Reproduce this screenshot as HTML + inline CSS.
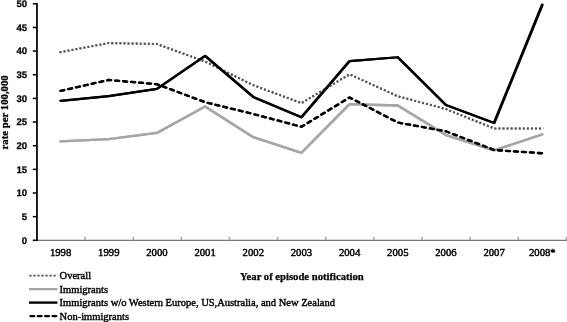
<!DOCTYPE html>
<html><head><meta charset="utf-8"><title>chart</title><style>html,body{margin:0;padding:0;background:#fff;overflow:hidden}body{width:567px;height:322px;position:relative}</style></head><body>
<svg width="567" height="322" viewBox="0 0 567 322" style="position:absolute;left:0;top:0">
<rect width="567" height="322" fill="#fff"/>
<line x1="37" y1="240.3" x2="567" y2="240.3" stroke="#777" stroke-width="1.3"/>
<line x1="85.2" y1="237.0" x2="85.2" y2="240.3" stroke="#a0a0a0" stroke-width="1.5"/>
<line x1="133.3" y1="237.0" x2="133.3" y2="240.3" stroke="#a0a0a0" stroke-width="1.5"/>
<line x1="181.4" y1="237.0" x2="181.4" y2="240.3" stroke="#a0a0a0" stroke-width="1.5"/>
<line x1="229.5" y1="237.0" x2="229.5" y2="240.3" stroke="#a0a0a0" stroke-width="1.5"/>
<line x1="277.6" y1="237.0" x2="277.6" y2="240.3" stroke="#a0a0a0" stroke-width="1.5"/>
<line x1="325.8" y1="237.0" x2="325.8" y2="240.3" stroke="#a0a0a0" stroke-width="1.5"/>
<line x1="373.9" y1="237.0" x2="373.9" y2="240.3" stroke="#a0a0a0" stroke-width="1.5"/>
<line x1="422.0" y1="237.0" x2="422.0" y2="240.3" stroke="#a0a0a0" stroke-width="1.5"/>
<line x1="470.1" y1="237.0" x2="470.1" y2="240.3" stroke="#a0a0a0" stroke-width="1.5"/>
<line x1="518.3" y1="237.0" x2="518.3" y2="240.3" stroke="#a0a0a0" stroke-width="1.5"/>
<line x1="566.4" y1="237.0" x2="566.4" y2="240.3" stroke="#a0a0a0" stroke-width="1.5"/>
<line x1="36.95" y1="3.05" x2="36.95" y2="241.05" stroke="#000" stroke-width="1.75"/>
<line x1="32.8" y1="240.30" x2="36.5" y2="240.30" stroke="#000" stroke-width="1.5"/>
<text text-rendering="geometricPrecision" x="27.2" y="243.65" text-anchor="end" font-family="Liberation Sans, sans-serif" font-weight="bold" font-size="9.6" stroke="#000" stroke-width="0.25">0</text>
<line x1="32.8" y1="216.65" x2="36.5" y2="216.65" stroke="#000" stroke-width="1.5"/>
<text text-rendering="geometricPrecision" x="27.2" y="220.00" text-anchor="end" font-family="Liberation Sans, sans-serif" font-weight="bold" font-size="9.6" stroke="#000" stroke-width="0.25">5</text>
<line x1="32.8" y1="193.00" x2="36.5" y2="193.00" stroke="#000" stroke-width="1.5"/>
<text text-rendering="geometricPrecision" x="27.2" y="196.35" text-anchor="end" font-family="Liberation Sans, sans-serif" font-weight="bold" font-size="9.6" stroke="#000" stroke-width="0.25">10</text>
<line x1="32.8" y1="169.35" x2="36.5" y2="169.35" stroke="#000" stroke-width="1.5"/>
<text text-rendering="geometricPrecision" x="27.2" y="172.70" text-anchor="end" font-family="Liberation Sans, sans-serif" font-weight="bold" font-size="9.6" stroke="#000" stroke-width="0.25">15</text>
<line x1="32.8" y1="145.70" x2="36.5" y2="145.70" stroke="#000" stroke-width="1.5"/>
<text text-rendering="geometricPrecision" x="27.2" y="149.05" text-anchor="end" font-family="Liberation Sans, sans-serif" font-weight="bold" font-size="9.6" stroke="#000" stroke-width="0.25">20</text>
<line x1="32.8" y1="122.05" x2="36.5" y2="122.05" stroke="#000" stroke-width="1.5"/>
<text text-rendering="geometricPrecision" x="27.2" y="125.40" text-anchor="end" font-family="Liberation Sans, sans-serif" font-weight="bold" font-size="9.6" stroke="#000" stroke-width="0.25">25</text>
<line x1="32.8" y1="98.40" x2="36.5" y2="98.40" stroke="#000" stroke-width="1.5"/>
<text text-rendering="geometricPrecision" x="27.2" y="101.75" text-anchor="end" font-family="Liberation Sans, sans-serif" font-weight="bold" font-size="9.6" stroke="#000" stroke-width="0.25">30</text>
<line x1="32.8" y1="74.75" x2="36.5" y2="74.75" stroke="#000" stroke-width="1.5"/>
<text text-rendering="geometricPrecision" x="27.2" y="78.10" text-anchor="end" font-family="Liberation Sans, sans-serif" font-weight="bold" font-size="9.6" stroke="#000" stroke-width="0.25">35</text>
<line x1="32.8" y1="51.10" x2="36.5" y2="51.10" stroke="#000" stroke-width="1.5"/>
<text text-rendering="geometricPrecision" x="27.2" y="54.45" text-anchor="end" font-family="Liberation Sans, sans-serif" font-weight="bold" font-size="9.6" stroke="#000" stroke-width="0.25">40</text>
<line x1="32.8" y1="27.45" x2="36.5" y2="27.45" stroke="#000" stroke-width="1.5"/>
<text text-rendering="geometricPrecision" x="27.2" y="30.80" text-anchor="end" font-family="Liberation Sans, sans-serif" font-weight="bold" font-size="9.6" stroke="#000" stroke-width="0.25">45</text>
<line x1="32.8" y1="3.80" x2="36.5" y2="3.80" stroke="#000" stroke-width="1.5"/>
<text text-rendering="geometricPrecision" x="27.2" y="7.15" text-anchor="end" font-family="Liberation Sans, sans-serif" font-weight="bold" font-size="9.6" stroke="#000" stroke-width="0.25">50</text>
<text x="60.6" y="256" text-anchor="middle" font-family="Liberation Serif, serif" font-size="10.7" stroke="#000" stroke-width="0.45">1998</text>
<text x="108.8" y="256" text-anchor="middle" font-family="Liberation Serif, serif" font-size="10.7" stroke="#000" stroke-width="0.45">1999</text>
<text x="156.9" y="256" text-anchor="middle" font-family="Liberation Serif, serif" font-size="10.7" stroke="#000" stroke-width="0.45">2000</text>
<text x="205.1" y="256" text-anchor="middle" font-family="Liberation Serif, serif" font-size="10.7" stroke="#000" stroke-width="0.45">2001</text>
<text x="253.3" y="256" text-anchor="middle" font-family="Liberation Serif, serif" font-size="10.7" stroke="#000" stroke-width="0.45">2002</text>
<text x="301.4" y="256" text-anchor="middle" font-family="Liberation Serif, serif" font-size="10.7" stroke="#000" stroke-width="0.45">2003</text>
<text x="349.6" y="256" text-anchor="middle" font-family="Liberation Serif, serif" font-size="10.7" stroke="#000" stroke-width="0.45">2004</text>
<text x="397.8" y="256" text-anchor="middle" font-family="Liberation Serif, serif" font-size="10.7" stroke="#000" stroke-width="0.45">2005</text>
<text x="445.9" y="256" text-anchor="middle" font-family="Liberation Serif, serif" font-size="10.7" stroke="#000" stroke-width="0.45">2006</text>
<text x="494.1" y="256" text-anchor="middle" font-family="Liberation Serif, serif" font-size="10.7" stroke="#000" stroke-width="0.45">2007</text>
<text x="542.3" y="256" text-anchor="middle" font-family="Liberation Serif, serif" font-size="10.7" stroke="#000" stroke-width="0.45">2008*</text>
<polyline points="60.26,141.44 108.42,139.08 156.59,132.93 204.76,106.44 252.94,137.19 301.11,152.80 349.28,104.08 397.45,105.50 445.62,135.06 493.79,150.43 541.96,134.35" fill="none" stroke="#a6a6a6" stroke-width="2.3" stroke-linejoin="round" stroke-linecap="round"/>
<polyline points="60.91,141.44 109.08,139.08 157.26,132.93 205.43,106.44 253.60,137.19 301.76,152.80 349.94,104.08 398.11,105.50 446.27,135.06 494.44,150.43 542.62,134.35" fill="none" stroke="#a6a6a6" stroke-width="2.3" stroke-linejoin="round" stroke-linecap="round"/>
<polyline points="59.48,52.23 108.63,43.06 156.81,44.00 204.97,61.51 253.15,85.16 301.31,103.13 349.49,74.28 397.66,96.27 445.82,109.04 494.00,128.44 543.17,128.44" fill="none" stroke="#555" stroke-width="2.05" stroke-dasharray="1.85 2.2" stroke-linejoin="round"/>
<polyline points="59.72,52.23 108.88,43.06 157.05,44.00 205.22,61.51 253.39,85.16 301.56,103.13 349.73,74.28 397.90,96.27 446.06,109.04 494.24,128.44 543.41,128.44" fill="none" stroke="#555" stroke-width="2.05" stroke-dasharray="1.85 2.2" stroke-linejoin="round"/>
<polyline points="60.26,90.83 108.42,79.95 156.59,84.21 204.76,102.18 252.94,114.01 301.11,126.78 349.28,97.45 397.45,122.52 445.62,131.27 493.79,149.96 541.96,153.27" fill="none" stroke="#000" stroke-width="2.3" stroke-dasharray="3.6 4.4" stroke-linecap="round" stroke-linejoin="round"/>
<polyline points="60.91,90.83 109.08,79.95 157.26,84.21 205.43,102.18 253.60,114.01 301.76,126.78 349.94,97.45 398.11,122.52 446.27,131.27 494.44,149.96 542.62,153.27" fill="none" stroke="#000" stroke-width="2.3" stroke-dasharray="3.6 4.4" stroke-linecap="round" stroke-linejoin="round"/>
<polyline points="60.26,100.76 108.42,96.03 156.59,88.94 204.76,55.83 252.94,96.98 301.11,117.32 349.28,61.03 397.45,57.25 445.62,105.02 493.79,123.00 541.96,4.75" fill="none" stroke="#000" stroke-width="2.25" stroke-linejoin="round" stroke-linecap="round"/>
<polyline points="60.91,100.76 109.08,96.03 157.26,88.94 205.43,55.83 253.60,96.98 301.76,117.32 349.94,61.03 398.11,57.25 446.27,105.02 494.44,123.00 542.62,4.75" fill="none" stroke="#000" stroke-width="2.25" stroke-linejoin="round" stroke-linecap="round"/>
<text transform="translate(7.6,112.35) rotate(-90)" text-anchor="middle" font-family="Liberation Serif, serif" font-weight="bold" font-size="10.75" stroke="#000" stroke-width="0.3">rate per 100,000</text>
<text x="240.1" y="279.9" font-family="Liberation Serif, serif" font-weight="bold" font-size="10.65" stroke="#000" stroke-width="0.25">Year of episode notification</text>
<line x1="29.3" x2="57" y1="275.6" y2="275.6" stroke="#555" stroke-width="1.7" stroke-dasharray="2.3 1.72"/>
<line x1="29" x2="57.4" y1="289.15" y2="289.15" stroke="#a6a6a6" stroke-width="2.3"/>
<line x1="29" x2="57.4" y1="302.6" y2="302.6" stroke="#000" stroke-width="2.4"/>
<line x1="30.45" x2="56.5" y1="316.1" y2="316.1" stroke="#000" stroke-width="2.3" stroke-dasharray="3.8 3.55" stroke-linecap="round"/>
<text x="59.6" y="278.70" font-family="Liberation Serif, serif" font-size="10.5" stroke="#000" stroke-width="0.4">Overall</text>
<text x="59.6" y="292.55" font-family="Liberation Serif, serif" font-size="10.5" stroke="#000" stroke-width="0.4">Immigrants</text>
<text x="59.6" y="306.00" font-family="Liberation Serif, serif" font-size="10.5" stroke="#000" stroke-width="0.4">Immigrants w/o Western Europe, US,Australia, and New Zealand</text>
<text x="59.6" y="319.55" font-family="Liberation Serif, serif" font-size="10.5" stroke="#000" stroke-width="0.4">Non-immigrants</text>
</svg>
</body></html>
